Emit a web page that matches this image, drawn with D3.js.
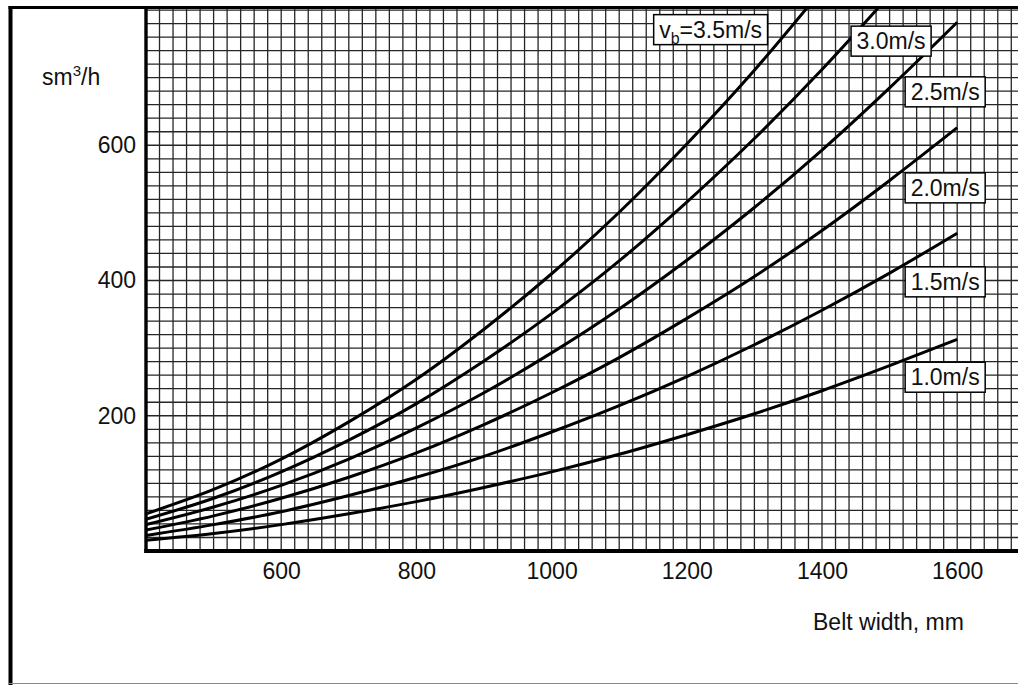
<!DOCTYPE html>
<html>
<head>
<meta charset="utf-8">
<script src="https://cdn.jsdelivr.net/npm/d3@7"></script>
<style>
  html, body { margin: 0; padding: 0; background: #fff; }
  svg { display: block; font-family: "Liberation Sans", Arial, sans-serif; }
</style>
</head>
<body>
<svg id="chart" width="1018" height="685"></svg>
<script>
// Conveyor capacity (sm³/h) against belt width (mm) for several belt speeds
const beltWidths = [400, 500, 600, 700, 800, 900, 1000, 1100, 1200, 1300, 1400, 1500, 1600];
const q1_0 = [16, 26, 39, 55, 73, 94, 117, 143, 172, 203, 237, 274, 313];
const q1_5 = [23, 39, 58, 82, 109, 140, 176, 215, 258, 305, 356, 411, 470];
const q2_0 = [31, 52, 78, 109, 145, 187, 234, 286, 344, 406, 474, 548, 626];
const q2_5 = [39, 65, 97, 136, 182, 234, 293, 358, 430, 508, 593, 685, 782];
const q3_0 = [47, 78, 117, 164, 218, 281, 351, 429, 516, 610, 712, 822];
const q3_5 = [55, 91, 136, 191, 254, 328, 410, 501, 602, 711, 830];

const speedLabels = ["1.0m/s", "1.5m/s", "2.0m/s", "2.5m/s", "3.0m/s", "=3.5m/s"];
const xTicks = [600, 800, 1000, 1200, 1400, 1600];
const yTicks = [200, 400, 600];

// where each speed tag sits, in data units: [belt width at box left, capacity at box middle]
const tagAnchors = [[1523, 257], [1523, 398], [1523, 537], [1523, 679], [1443, 754], [1151, 771]];

const series = [q1_0, q1_5, q2_0, q2_5, q3_0, q3_5];

const svg = d3.select("#chart");
const W = 1018, H = 685;

const x = d3.scaleLinear().domain([400, 1700]).range([146, 146 + 1300 * 0.676]);
const y = d3.scaleLinear().domain([0, 803]).range([551, 8]);

const [x0, x1] = x.range();
const [y0, y1] = y.range();

svg.append("defs").append("clipPath").attr("id", "plotClip")
  .append("rect").attr("x", x0).attr("y", y1).attr("width", x1 - x0).attr("height", y0 - y1);

// fine grid, every 20 mm and every 20 sm³/h
const grid = svg.append("g").attr("stroke", "#262626").attr("stroke-width", 1.3);
grid.selectAll("line.v").data(d3.range(420, 1700, 20)).join("line")
  .attr("class", "v")
  .attr("x1", d => x(d)).attr("x2", d => x(d))
  .attr("y1", y1).attr("y2", y0);
grid.selectAll("line.h").data(d3.range(20, 803, 20)).join("line")
  .attr("class", "h")
  .attr("x1", x0).attr("x2", W)
  .attr("y1", d => y(d)).attr("y2", d => y(d));

// capacity curves
const line = d3.line()
  .x(d => x(d[0]))
  .y(d => y(d[1]))
  .curve(d3.curveMonotoneX);

svg.append("g").attr("clip-path", "url(#plotClip)")
  .selectAll("path").data(series).join("path")
  .attr("d", vals => line(vals.map((v, i) => [beltWidths[i], v])))
  .attr("fill", "none")
  .attr("stroke", "#000")
  .attr("stroke-width", 3)
  .attr("stroke-linejoin", "round");

// plot borders and outer frame
svg.append("line").attr("x1", x0).attr("x2", x0).attr("y1", y1).attr("y2", y0 + 2)
  .attr("stroke", "#000").attr("stroke-width", 3.4);
svg.append("line").attr("x1", x0 - 1.7).attr("x2", W).attr("y1", y0).attr("y2", y0)
  .attr("stroke", "#000").attr("stroke-width", 4);
svg.append("line").attr("x1", 8.5).attr("x2", W).attr("y1", 7.5).attr("y2", 7.5)
  .attr("stroke", "#000").attr("stroke-width", 3);
svg.append("line").attr("x1", 10.5).attr("x2", 10.5).attr("y1", 6).attr("y2", H)
  .attr("stroke", "#000").attr("stroke-width", 4);
svg.append("line").attr("x1", 8.5).attr("x2", W).attr("y1", 683.5).attr("y2", 683.5)
  .attr("stroke", "#8a8a8a").attr("stroke-width", 1);

// axes (labels only, no tick marks)
const fontSize = 23;
const xAxis = svg.append("g")
  .attr("transform", `translate(0,${y0})`)
  .call(d3.axisBottom(x).tickValues(xTicks).tickSize(0).tickPadding(12).tickFormat(d3.format("d")));
xAxis.select(".domain").remove();
xAxis.selectAll("text").attr("font-size", fontSize).attr("fill", "#111")
  .attr("font-family", "Liberation Sans, Arial, sans-serif");

const yAxis = svg.append("g")
  .attr("transform", `translate(${x0},0)`)
  .call(d3.axisLeft(y).tickValues(yTicks).tickSize(0).tickPadding(10).tickFormat(d3.format("d")));
yAxis.select(".domain").remove();
yAxis.selectAll("text").attr("font-size", fontSize).attr("fill", "#111")
  .attr("font-family", "Liberation Sans, Arial, sans-serif");

// axis titles
const yTitle = svg.append("text").attr("x", 42).attr("y", 85)
  .attr("font-size", fontSize).attr("fill", "#111");
yTitle.append("tspan").text("sm");
yTitle.append("tspan").text("3").attr("font-size", 15).attr("dy", -9);
yTitle.append("tspan").text("/h").attr("dy", 9);

svg.append("text").attr("x", 813).attr("y", 630)
  .attr("font-size", fontSize).attr("fill", "#111")
  .text("Belt width, mm");

// speed tags: white boxes with a thin border
const tags = svg.append("g");
speedLabels.forEach((lab, i) => {
  const [bx, by] = tagAnchors[i];
  const left = x(bx), mid = y(by);
  const pad = 5.5, boxH = 30;
  const g = tags.append("g");
  const rect = g.append("rect");
  const t = g.append("text")
    .attr("x", left + pad)
    .attr("y", mid + 8.2)
    .attr("font-size", fontSize)
    .attr("fill", "#111");
  if (i === speedLabels.length - 1) {
    t.append("tspan").text("v");
    t.append("tspan").text("b").attr("font-size", 16).attr("dy", 6);
    t.append("tspan").text(lab).attr("dy", -6);
  } else {
    t.text(lab);
  }
  const bb = t.node().getBBox();
  rect.attr("x", left).attr("y", mid - boxH / 2)
    .attr("width", bb.width + 2 * pad).attr("height", boxH)
    .attr("fill", "#fff").attr("stroke", "#000").attr("stroke-width", 1.5);
});
</script>
</body>
</html>
